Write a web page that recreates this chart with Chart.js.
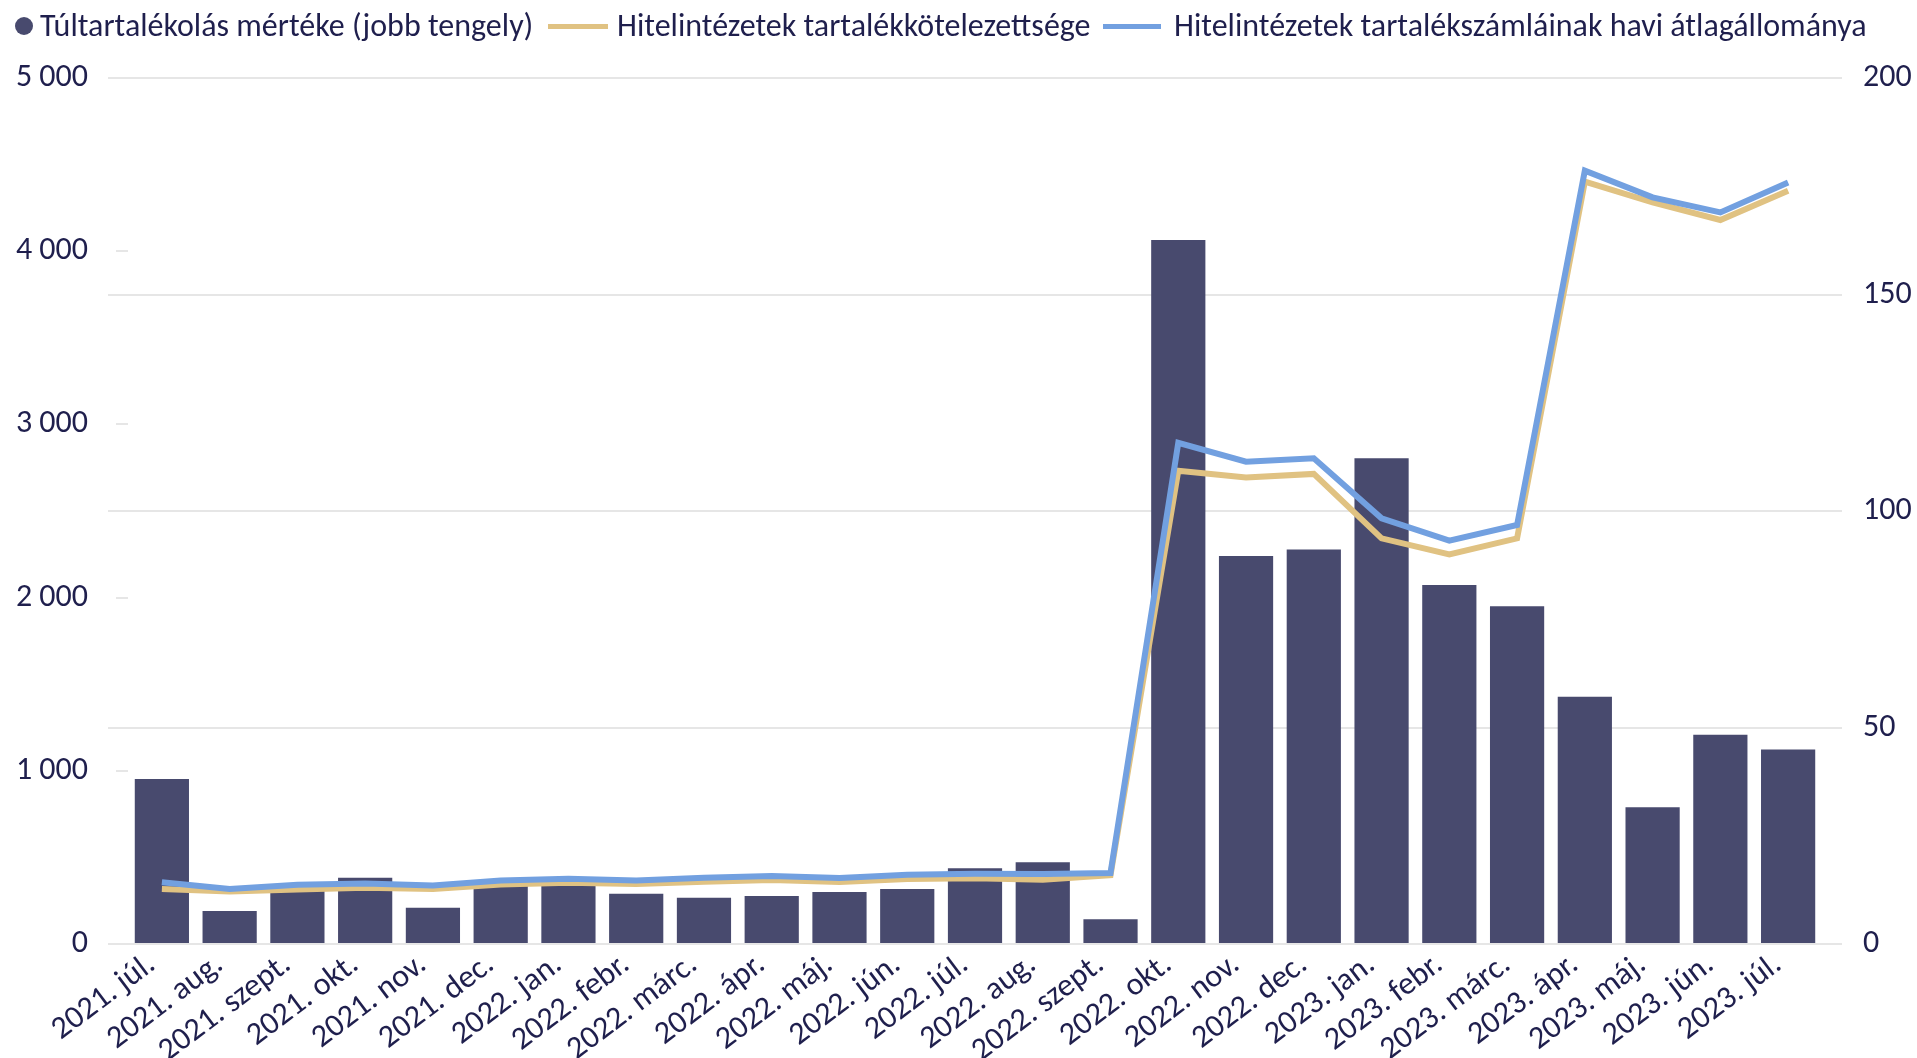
<!DOCTYPE html>
<html lang="hu">
<head>
<meta charset="utf-8">
<script src="https://cdn.jsdelivr.net/npm/chart.js@4"></script>
<style>
  html, body { margin: 0; padding: 0; background: #ffffff; }
  #wrap { position: relative; width: 1917px; height: 1058px; overflow: hidden; }
  #c { position: absolute; left: 0; top: 0; }
  .lg-item { position: absolute; top: 6px; height: 40px; display: flex; align-items: center; }
  .lg-text { position: absolute; top: 6px; height: 40px; line-height: 40px; white-space: nowrap;
             font-family: Carlito, Calibri, Lato, sans-serif; font-size: 32px; color: #1f1f4d; }
</style>
</head>
<body>
<div id="wrap">
  <canvas id="c" width="1917" height="1058"></canvas>
  <div id="legend"></div>
</div>
<script>
const categories = ['2021. júl.', '2021. aug.', '2021. szept.', '2021. okt.', '2021. nov.', '2021. dec.',
  '2022. jan.', '2022. febr.', '2022. márc.', '2022. ápr.', '2022. máj.', '2022. jún.', '2022. júl.',
  '2022. aug.', '2022. szept.', '2022. okt.', '2022. nov.', '2022. dec.', '2023. jan.', '2023. febr.',
  '2023. márc.', '2023. ápr.', '2023. máj.', '2023. jún.', '2023. júl.'];

// Túltartalékolás mértéke (jobb tengely)
const excessReserve = [38.1, 7.6, 12.6, 15.3, 8.4, 13.5, 14.2, 11.6, 10.7, 11.1, 12.0, 12.7, 17.5,
  18.9, 5.7, 162.6, 89.6, 91.1, 112.2, 82.9, 78.0, 57.1, 31.6, 48.3, 44.9];

// Hitelintézetek tartalékkötelezettsége
const reserveRequirement = [318, 303, 314, 325, 318, 343, 353, 347, 360, 369, 358, 375, 379,
  371, 398, 2733, 2694, 2714, 2342, 2250, 2342, 4402, 4282, 4180, 4349];

// Hitelintézetek tartalékszámláinak havi átlagállománya
const reserveBalance = [357, 318, 342, 350, 338, 366, 377, 367, 383, 392, 381, 400, 405,
  404, 410, 2894, 2785, 2804, 2458, 2329, 2419, 4465, 4311, 4224, 4396];

const leftTicks = [0, 1000, 2000, 3000, 4000, 5000];
const rightTicks = [0, 50, 100, 150, 200];

const labels = {
  bars: 'Túltartalékolás mértéke (jobb tengely)',
  req: 'Hitelintézetek tartalékkötelezettsége',
  bal: 'Hitelintézetek tartalékszámláinak havi átlagállománya'
};

const COL_BAR = '#484a6e';
const COL_GOLD = '#e0c282';
const COL_BLUE = '#72a0e0';
const COL_TEXT = '#1f1f4d';
const COL_GRID = '#e6e6e6';
const FONT = 'Carlito, Calibri, Lato, sans-serif';
const FSIZE = 32;

function fmt(v) { return String(v).replace(/\B(?=(\d{3})+(?!\d))/g, ' '); }

const gridExtend = {
  id: 'gridExtend',
  beforeDatasetsDraw(chart) {
    const ctx = chart.ctx, a = chart.chartArea, yR = chart.scales.yR;
    ctx.save();
    ctx.strokeStyle = COL_GRID;
    ctx.lineWidth = 2;
    yR.ticks.forEach(t => {
      const y = Math.round(yR.getPixelForValue(t.value));
      ctx.beginPath();
      ctx.moveTo(a.left - 20, y);
      ctx.lineTo(a.left, y);
      ctx.stroke();
    });
    ctx.restore();
  }
};

const chart = new Chart(document.getElementById('c'), {
  data: {
    labels: categories,
    datasets: [
      { type: 'bar', label: labels.bars, data: excessReserve, yAxisID: 'yR',
        backgroundColor: COL_BAR, borderWidth: 0, categoryPercentage: 0.8, barPercentage: 1.0, order: 3 },
      { type: 'line', label: labels.req, data: reserveRequirement, yAxisID: 'yL',
        borderColor: COL_GOLD, backgroundColor: COL_GOLD, borderWidth: 6, pointRadius: 0,
        tension: 0, fill: false, order: 2 },
      { type: 'line', label: labels.bal, data: reserveBalance, yAxisID: 'yL',
        borderColor: COL_BLUE, backgroundColor: COL_BLUE, borderWidth: 6, pointRadius: 0,
        tension: 0, fill: false, order: 1 }
    ]
  },
  options: {
    responsive: false,
    devicePixelRatio: 1,
    animation: false,
    layout: { padding: { top: 78, left: 0, right: 0, bottom: 0 } },
    plugins: { legend: { display: false }, tooltip: { enabled: false } },
    scales: {
      x: {
        grid: { display: false, drawTicks: false },
        border: { display: false },
        ticks: { autoSkip: false, maxRotation: 37, minRotation: 37, padding: 2, labelOffset: -10,
                 color: COL_TEXT, font: { family: FONT, size: FSIZE } },
        afterFit(s) { s.height = 114; }
      },
      yL: {
        position: 'left', min: 0, max: 5000,
        afterBuildTicks(s) { s.ticks = leftTicks.map(v => ({ value: v })); },
        grid: { drawOnChartArea: false, drawTicks: true, tickLength: 12, color: COL_GRID, tickColor: COL_GRID, lineWidth: 2 },
        border: { display: false },
        ticks: { padding: 28, color: COL_TEXT, font: { family: FONT, size: FSIZE }, callback: v => fmt(v) },
        afterFit(s) { s.width = 128; }
      },
      yR: {
        position: 'right', min: 0, max: 200,
        afterBuildTicks(s) { s.ticks = rightTicks.map(v => ({ value: v })); },
        grid: { drawOnChartArea: true, drawTicks: true, tickLength: 20, color: COL_GRID, tickColor: COL_GRID, lineWidth: 2 },
        border: { display: false },
        ticks: { padding: 21, color: COL_TEXT, font: { family: FONT, size: FSIZE }, callback: v => fmt(v) },
        afterFit(s) { s.width = 95; }
      }
    }
  },
  plugins: [gridExtend]
});

// HTML legend built from the chart's datasets
const legendLayout = [
  { markX: 15, markW: 18, textX: 40, kind: 'dot' },
  { markX: 548, markW: 60, textX: 617, kind: 'line' },
  { markX: 1103, markW: 58, textX: 1174, kind: 'line' }
];
const lg = document.getElementById('legend');
chart.data.datasets.forEach((ds, i) => {
  const L = legendLayout[i];
  const m = document.createElement('div');
  m.className = 'lg-item';
  m.style.left = L.markX + 'px';
  const sw = document.createElement('div');
  if (L.kind === 'dot') {
    sw.style.cssText = `width:${L.markW}px;height:${L.markW}px;border-radius:50%;background:${ds.backgroundColor};`;
  } else {
    sw.style.cssText = `width:${L.markW}px;height:5px;background:${ds.borderColor};`;
  }
  m.appendChild(sw);
  lg.appendChild(m);
  const t = document.createElement('div');
  t.className = 'lg-text';
  t.style.left = L.textX + 'px';
  t.textContent = ds.label;
  lg.appendChild(t);
});
</script>
</body>
</html>
